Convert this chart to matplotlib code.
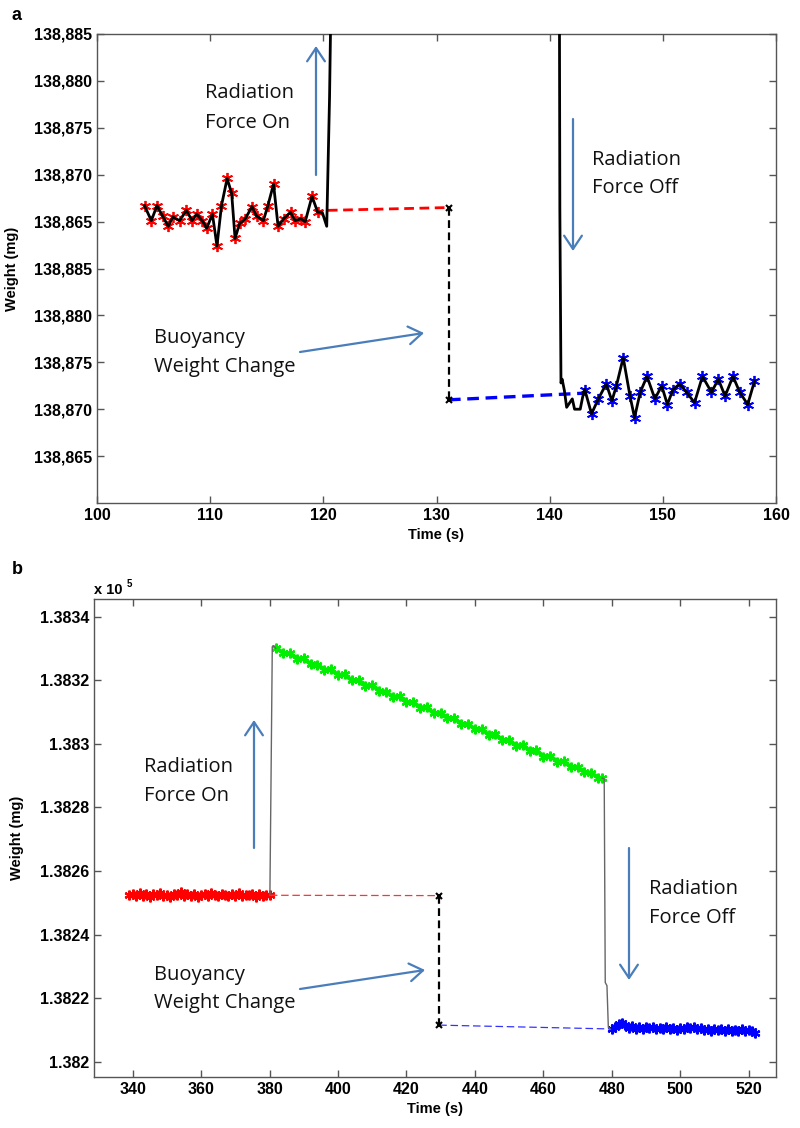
import matplotlib
matplotlib.use('Agg')
import matplotlib.pyplot as plt
from matplotlib.ticker import FixedLocator, FuncFormatter

W, H = 800, 1128
fig = plt.figure(figsize=(8, 11.28), dpi=100)
plt.rcParams['font.family'] = ['Liberation Sans', 'DejaVu Sans']


def fx(x):
    return x / W


def fy(y):
    return 1 - y / H

# ---------------- Panel a data ----------------
a_red_t = [104.2, 104.8, 105.3, 105.8, 106.3, 106.7, 107.3, 107.9, 108.4, 108.8,
           109.3, 109.7, 110.2, 110.6, 111.0, 111.5, 111.9, 112.2, 112.6, 113.1,
           113.7, 114.1, 114.7, 115.1, 115.6, 116.0, 116.5, 117.1, 117.5, 118.0,
           118.4, 119.0, 119.5]
a_red_w = [138866.7, 138865.1, 138866.7, 138865.6, 138864.5, 138865.5, 138865.1,
           138866.2, 138865.1, 138865.8, 138865.1, 138864.3, 138865.8, 138862.4,
           138866.7, 138869.6, 138868.0, 138863.2, 138864.8, 138865.3, 138866.6,
           138865.6, 138865.1, 138866.7, 138869.0, 138864.5, 138865.3, 138866.0,
           138865.1, 138865.3, 138865.0, 138867.7, 138866.0]
a_on_t = [119.9, 120.3, 120.55, 120.75]
a_on_w = [138866.0, 138864.5, 138878.3, 138895.0]
a_offtop_t = [140.85, 140.9]
a_offtop_w = [138895.0, 138866.3]           # read on upper scale
a_offlow_t = [141.0, 141.1, 141.3, 141.5, 142.0, 142.2, 142.7, 143.0]
a_offlow_w = [138872.8, 138873.2, 138872.0, 138870.2, 138871.1, 138870.0,
              138870.0, 138871.8]            # read on lower scale
a_blue_t = [143.1, 143.7, 144.3, 145.0, 145.5, 145.9, 146.5, 147.1, 147.5, 148.0,
            148.6, 149.3, 149.9, 150.4, 150.9, 151.5, 152.1, 152.8, 153.5, 154.3,
            154.9, 155.5, 156.2, 156.8, 157.5, 158.1]
a_blue_w = [138872.1, 138869.5, 138871.1, 138872.7, 138870.9, 138872.5, 138875.5,
            138871.4, 138869.1, 138871.8, 138873.5, 138871.1, 138872.5, 138870.5,
            138872.1, 138872.7, 138871.8, 138870.7, 138873.5, 138871.8, 138873.2,
            138871.4, 138873.5, 138871.8, 138870.5, 138873.0]
a_red_dash_t = [120.4, 131.1]
a_red_dash_w = [138866.2, 138866.5]          # upper scale
a_blue_dash_t = [131.1, 142.9]
a_blue_dash_w = [138871.0, 138871.7]         # lower scale
a_tick_vals = [138865, 138870, 138875, 138880, 138885]
a_xticks = [100, 110, 120, 130, 140, 150, 160]
LOWER_SHIFT = -25   # lower axis segment is drawn 25 mg below its labels


def low(ws):
    return [w + LOWER_SHIFT for w in ws]

# ---------------- Panel b data ----------------
b_red_t = list(range(339, 381))
b_red_w = [138252.4, 138252.9, 138252.1, 138253.0, 138252.3, 138252.7, 138252.0,
           138252.8, 138252.5, 138253.2, 138252.2, 138252.6, 138251.9, 138252.8,
           138252.4, 138253.3, 138252.1, 138252.7, 138252.3, 138252.9, 138252.0,
           138252.6, 138252.8, 138252.2, 138253.0, 138252.4, 138252.1, 138252.9,
           138252.5, 138252.2, 138252.8, 138252.3, 138253.0, 138252.1, 138252.6,
           138252.4, 138252.9, 138252.0, 138252.7, 138252.3, 138252.5, 138252.4]
b_on_t = [380.1, 380.4, 380.8, 381.3, 381.8]
b_on_w = [138252.4, 138285.0, 138330.5, 138330.8, 138330.0]
b_green_t = [382, 384, 386, 388, 390, 392, 394, 396, 398, 400, 402, 404, 406, 408,
             410, 412, 414, 416, 418, 420, 422, 424, 426, 428, 430, 432, 434, 436,
             438, 440, 442, 444, 446, 448, 450, 452, 454, 456, 458, 460, 462, 464,
             466, 468, 470, 472, 474, 476, 477.2]
b_green_w = [138330.0, 138328.6, 138328.4, 138326.8, 138326.9, 138325.0, 138324.9,
             138323.3, 138323.4, 138321.6, 138321.8, 138319.9, 138320.0, 138318.2,
             138318.5, 138316.6, 138316.4, 138314.8, 138314.9, 138313.0, 138313.1,
             138311.4, 138311.5, 138309.6, 138309.8, 138308.0, 138308.1, 138306.2,
             138306.3, 138304.6, 138304.7, 138302.8, 138303.0, 138301.2, 138301.3,
             138299.4, 138299.7, 138297.8, 138298.0, 138296.0, 138296.3, 138294.4,
             138294.5, 138292.7, 138292.8, 138291.0, 138290.9, 138289.4, 138289.2]
b_off_t = [477.2, 477.8, 478.1, 478.6, 479.0, 479.6]
b_off_w = [138289.2, 138289.0, 138225.0, 138224.0, 138211.0, 138210.3]
b_blue_t = [480, 481, 482, 483, 484, 485, 486, 487, 488, 489, 490, 491, 492, 493,
            494, 495, 496, 497, 498, 499, 500, 501, 502, 503, 504, 505, 506, 507,
            508, 509, 510, 511, 512, 513, 514, 515, 516, 517, 518, 519, 520, 521,
            521.8]
b_blue_w = [138210.3, 138211.0, 138211.8, 138212.3, 138211.5, 138210.6, 138211.2,
            138210.5, 138211.0, 138210.4, 138210.9, 138210.6, 138211.1, 138210.3,
            138210.8, 138210.5, 138211.0, 138210.4, 138210.7, 138210.2, 138210.8,
            138210.4, 138210.9, 138210.6, 138211.0, 138210.3, 138210.6, 138210.1,
            138210.5, 138209.9, 138210.4, 138210.0, 138210.5, 138209.8, 138210.3,
            138209.9, 138210.2, 138209.7, 138210.3, 138209.9, 138210.1, 138209.8,
            138209.2]
b_red_dash_t = [380.1, 429.6]
b_red_dash_w = [138252.4, 138252.3]
b_blue_dash_t = [429.6, 479.5]
b_blue_dash_w = [138211.6, 138210.4]
b_xticks = [340, 360, 380, 400, 420, 440, 460, 480, 500, 520]
b_yticks = [138200, 138220, 138240, 138260, 138280, 138300, 138320, 138340]

SPINE = '#555555'
ARROW = '#4a7ebb'
ANN_FONT = ['Open Sans', 'DejaVu Sans']
ANN_SIZE = 14.5
TICK_SIZE = 11.5
AST = (6, 2, 0)


def style_axes(ax):
    for s in ax.spines.values():
        s.set_color(SPINE)
        s.set_linewidth(1.0)
    ax.tick_params(direction='in', length=5, width=1, color=SPINE,
                   top=True, right=True, labelsize=TICK_SIZE)
    for lab in ax.get_xticklabels() + ax.get_yticklabels():
        lab.set_fontweight('bold')


def arrow(x0, y0, x1, y1):
    fig.add_artist(matplotlib.patches.FancyArrowPatch(
        (fx(x0), fy(y0)), (fx(x1), fy(y1)), transform=fig.transFigure,
        arrowstyle='->,head_length=6,head_width=4', color=ARROW, lw=1.6,
        mutation_scale=1.6, shrinkA=0, shrinkB=0))


def label(x, y, s):
    fig.text(fx(x), fy(y), s, family=ANN_FONT, fontsize=ANN_SIZE,
             ha='left', va='center', color='#111111')

# ---------------- Panel a ----------------
axa = fig.add_axes([fx(97), fy(503), fx(776) - fx(97), fy(34) - fy(503)])
axa.plot(a_red_t, a_red_w, linestyle='none', marker=AST, ms=8,
         mec='#ff0000', mew=1.3, zorder=2)
axa.plot(a_blue_t, low(a_blue_w), linestyle='none', marker=AST, ms=8,
         mec='#0000ff', mew=1.3, zorder=2)
axa.plot(a_red_t + a_on_t, a_red_w + a_on_w, color='black', lw=2.0, zorder=3,
         solid_joinstyle='round')
axa.plot(a_offtop_t + a_offlow_t + a_blue_t,
         a_offtop_w + low(a_offlow_w) + low(a_blue_w),
         color='black', lw=2.0, zorder=3, solid_joinstyle='round')
axa.plot(a_red_dash_t, a_red_dash_w, color='#ff0000', ls=(0, (3.5, 2)), lw=2.0,
         zorder=2)
axa.plot(a_blue_dash_t, low(a_blue_dash_w), color='#0000ff', ls=(0, (3.5, 2)),
         lw=2.4, zorder=2)
axa.plot([a_red_dash_t[1], a_blue_dash_t[0]],
         [a_red_dash_w[1], low(a_blue_dash_w)[0]],
         color='black', ls=(0, (3.5, 2)), lw=1.6, marker='x', ms=5, mew=1.5,
         zorder=4)
axa.set_xlim(100, 160)
axa.set_ylim(138835, 138885)
a_pos = low(a_tick_vals) + a_tick_vals
a_lab = a_tick_vals + a_tick_vals
axa.yaxis.set_major_locator(FixedLocator(a_pos))
axa.set_yticklabels([f'{v:,}' for v in a_lab])
axa.set_xticks(a_xticks)
style_axes(axa)
axa.set_xlabel('Time (s)', fontsize=10.5, fontweight='bold', labelpad=4)
axa.set_ylabel('Weight (mg)', fontsize=10.5, fontweight='bold')
axa.yaxis.set_label_coords((fx(19) - fx(97)) / (fx(776) - fx(97)), 0.5)

# ---------------- Panel b ----------------
axb = fig.add_axes([fx(94), fy(1077), fx(776) - fx(94), fy(599) - fy(1077)])
axb.plot(b_red_t, b_red_w, color='#ff0000', lw=2.6, marker=AST, ms=7,
         mew=1.6, zorder=2)
axb.plot(b_green_t, b_green_w, color='#00ee00', lw=3.0, marker=AST, ms=7,
         mew=1.6, zorder=2)
axb.plot(b_blue_t, b_blue_w, color='#0000ff', lw=2.6, marker=AST, ms=7,
         mew=1.6, zorder=2)
axb.plot(b_on_t, b_on_w, color='#666666', lw=1.0, zorder=3)
axb.plot(b_off_t, b_off_w, color='#666666', lw=1.0, zorder=3)
axb.plot(b_red_dash_t, b_red_dash_w, color='#ff3333', ls=(0, (6, 3)), lw=0.9)
axb.plot(b_blue_dash_t, b_blue_dash_w, color='#3333ff', ls=(0, (6, 3)), lw=0.9)
axb.plot([b_red_dash_t[1], b_blue_dash_t[0]], [b_red_dash_w[1], b_blue_dash_w[0]],
         color='black', ls=(0, (3.5, 2)), lw=1.6, marker='x', ms=5, mew=1.5,
         zorder=4)
axb.set_xlim(328.7, 528.0)
axb.set_ylim(138195.3, 138345.5)
axb.set_xticks(b_xticks)
axb.yaxis.set_major_locator(FixedLocator(b_yticks))
axb.yaxis.set_major_formatter(FuncFormatter(lambda v, p: f'{v / 1e5:.5g}'))
style_axes(axb)
axb.set_xlabel('Time (s)', fontsize=10.5, fontweight='bold', labelpad=4)
axb.set_ylabel('Weight (mg)', fontsize=10.5, fontweight='bold')
axb.yaxis.set_label_coords((fx(24) - fx(94)) / (fx(776) - fx(94)), 0.5)

# ---------------- Text & arrows ----------------
fig.text(fx(12), fy(15), 'a', fontsize=13, fontweight='bold', ha='left', va='center')
fig.text(fx(12), fy(570), 'b', fontsize=13, fontweight='bold', ha='left', va='center')
fig.text(fx(94), fy(590), 'x 10', fontsize=10.5, fontweight='bold', ha='left', va='center')
fig.text(fx(127), fy(584), '5', fontsize=7, fontweight='bold', ha='left', va='center')

label(205, 93, 'Radiation')
label(205, 123, 'Force On')
arrow(316, 175, 316, 46)
label(592, 160, 'Radiation')
label(592, 188, 'Force Off')
arrow(573, 119, 573, 251)
label(154, 338, 'Buoyancy')
label(154, 367, 'Weight Change')
arrow(300, 352, 424, 333)

label(144, 767, 'Radiation')
label(144, 796, 'Force On')
arrow(254, 848, 254, 720)
label(649, 889, 'Radiation')
label(649, 918, 'Force Off')
arrow(629, 848, 629, 980)
label(154, 975, 'Buoyancy')
label(154, 1003, 'Weight Change')
arrow(300, 989, 425, 970)

fig.savefig('out.png', dpi=100)
